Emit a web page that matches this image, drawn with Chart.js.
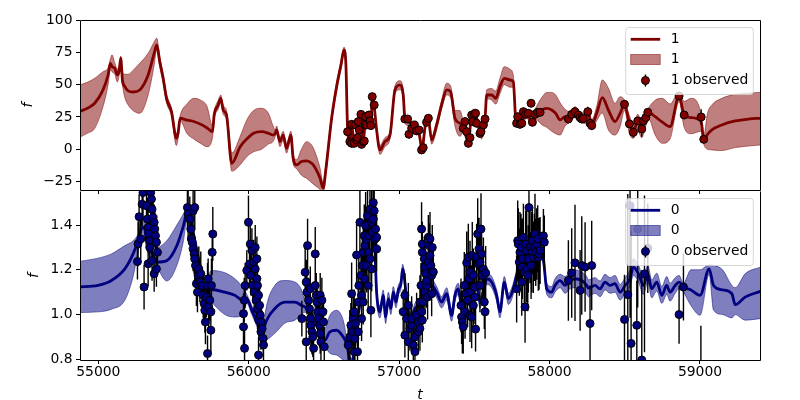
<!DOCTYPE html>
<html>
<head>
<meta charset="utf-8">
<script src="https://cdn.jsdelivr.net/npm/chart.js@4.4.1/dist/chart.umd.min.js"></script>
<style>
  html, body { margin: 0; padding: 0; background: #fff; }
  #wrap { position: relative; width: 800px; height: 400px; }
  #wrap canvas { position: absolute; left: 0; }
  #panel-top { top: 0; }
  #panel-bottom { top: 186px; }
</style>
</head>
<body>
<div id="wrap">
  <canvas id="panel-top" width="800" height="196"></canvas>
  <canvas id="panel-bottom" width="800" height="214"></canvas>
</div>
<script>
// =================================================================================
// 1. DATA
// =================================================================================
// --- shared axis ---
const xMin = 54878, xMax = 59399;
const xTicks = [55000, 56000, 57000, 58000, 59000];
const yTicks1 = [-25, 0, 25, 50, 75, 100];
const yTicks0 = [0.8, 1.0, 1.2, 1.4];

// --- series "1" (top panel): model mean and band ---
const t1 = [54870, 54930, 54976, 55031, 55065, 55080, 55091, 55109, 55127, 55140, 55149,
  55160, 55176, 55200, 55230, 55275, 55331, 55371, 55388, 55408, 55431, 55453,
  55486, 55519, 55530, 55544, 55590, 55634, 55680, 55723, 55759, 55770,
  55797, 55814, 55830, 55852, 55887, 55943, 55987, 56032, 56085, 56130,
  56162, 56176, 56185, 56207, 56229, 56251, 56280, 56295, 56318, 56350, 56384,
  56420, 56440, 56473, 56495, 56511, 56551, 56584, 56613, 56633, 56646, 56657,
  56672, 56684, 56701, 56717, 56728, 56746, 56761, 56777, 56799, 56812,
  56821, 56834, 56850, 56872, 56905, 56939, 56972, 57005, 57027, 57038,
  57061, 57105, 57127, 57152, 57176, 57194, 57216, 57249, 57282, 57316,
  57342, 57371, 57404, 57426, 57460, 57482, 57504, 57526, 57548, 57571,
  57582, 57615, 57642, 57670, 57699, 57737, 57759, 57775, 57792, 57815,
  57848, 57881, 57908, 57948, 57981, 58014, 58041, 58070, 58103, 58136,
  58169, 58203, 58236, 58254, 58280, 58313, 58351, 58391, 58435, 58469,
  58498, 58531, 58557, 58586, 58613, 58635, 58657, 58702, 58750, 58801,
  58861, 58895, 58940, 59008, 59025, 59050, 59079, 59145, 59234, 59323, 59402];
const mean1 = [29, 32, 35.6, 45.9, 57.5, 66.5, 64, 62.6, 57.5, 62, 70.4,
  53.6, 48.4, 45, 44.3, 45.9, 57.5, 74.2, 80.7, 67.8, 54.9, 39.4,
  29.1, 8.5, 12.4, 24, 22.5, 21.5, 19.3, 16.5, 13.6, 26.5,
  34.3, 39.4, 30.4, 26.5, -10.8, 2, 8, 12.4, 13.6, 12.4,
  11, 12.4, 15, 5.9, 11, 0.8, 11, -7, -12.1, -9.5, -9,
  -11, -14, -22, -30, -17.3, 24, 48.4, 65.2, 76.8, 65.2, 16.2,
  6, 19, 5, 8, 21, 26, 6, 24, 26, 18,
  39.4, 33, 15, -0.5, 5.9, 11, 45.9, 49.7, 42, 24,
  21.4, 16.2, 15, 0.8, 20.1, 22.7, 7.2, 18.8, 34.3, 45.9,
  44.5, 24, 20.1, 17.5, 5.9, 26.5, 27.8, 18.8, 11, 24,
  42, 42, 39.4, 48.4, 54.9, 53.6, 52.3, 24, 21.4, 22.7,
  27.8, 21.4, 27.8, 30.4, 31.7, 30.4, 27.8, 22.7, 25.2, 25.2,
  29.1, 25.2, 24, 29.1, 18.8, 27.8, 39.9, 30.4, 21.4, 27.8,
  34.8, 20.1, 13.6, 21.9, 16.2, 23.4, 28.6, 25.2, 21, 17.5,
  41.2, 26.5, 24.5, 21.4, 7.2, 11.5, 15, 18.8, 21.9, 23.4, 24];
const upper1 = [49.5, 52, 54.9, 60, 63, 70, 73, 67, 62, 66, 72,
  60, 58, 58, 61, 66.5, 74.2, 83, 86, 72, 58, 43,
  32, 12, 16, 26, 35, 39.4, 38, 33, 18, 29,
  38, 42, 34, 30, -3, 10, 22.7, 30, 31.7, 28,
  18, 15, 18, 9, 14, 4, 14, -3, -8, 0, 5.9,
  3, -2, -14, -26, -13, 27, 52, 68, 79, 68, 20,
  9, 22, 8, 11, 24, 29, 9, 27, 29, 21,
  42, 36, 18, 3, 9, 14, 49, 53, 46, 27,
  24, 19, 18, 4, 23, 26, 10, 22, 38, 51,
  49, 30, 30, 22, 9, 30, 31, 22, 14, 27,
  46, 47, 45, 55, 63.9, 62, 57, 27, 24, 26,
  31, 25, 32, 40, 44, 44, 42, 36, 31, 29,
  33, 29, 28, 33, 23, 33, 53.6, 47.2, 35.6, 40.7,
  38, 26, 20, 27, 22, 28, 32, 38, 39.4, 35,
  44.5, 37, 39.4, 27, 10, 28, 34.3, 39.4, 42.5, 43.5, 44];
const lower1 = [9, 12.5, 16.2, 33, 50, 62, 60, 58, 52, 58, 62,
  50, 40, 34, 30, 27.8, 42, 65, 77, 64, 51, 36,
  26, 3, 8, 22, 12, 8, 4.5, 2, 9, 23,
  31, 36, 27, 23, -17, -12, -5.7, -2, 0, 4,
  6, 9.8, 12, 2, 7, -3, 7, -11, -15, -20, -22.5,
  -26, -28, -31, -34, -21, 21, 45, 62, 73, 61, 12,
  3, 16, 2, 5, 18, 23, 3, 21, 23, 15,
  36, 30, 12, -4, 2, 8, 43, 46, 39, 21,
  18, 13, 12, -2, 17, 20, 4, 15, 31, 42,
  40, 18, 10, 13, 3, 23, 25, 16, 8, 21,
  39, 38, 35, 43, 50, 48, 48, 21, 18, 19,
  24, 18, 23, 19, 17, 14, 12, 11, 18, 21,
  25, 21, 20, 25, 15, 22, 28, 15, 11, 17.5,
  30, 12, 8.5, 14, 9, 16, 24, 11, 4.6, 8,
  37, 17, 12, 14, 4, 0, -0.5, -1, 1.3, 2.5, 3.3];

// --- series "1" observations ---
const obsT1 = [56657, 56672, 56684, 56684, 56701, 56710, 56717, 56723, 56728, 56735,
  56746, 56750, 56761, 56768, 56772, 56777, 56783, 56799, 56806, 56812, 56821, 56834,
  57038, 57056, 57065, 57083, 57101, 57116, 57132, 57149, 57160, 57182, 57194,
  57426, 57438, 57449, 57460, 57471, 57482, 57489, 57500, 57508, 57515, 57537, 57544, 57560, 57571,
  57781, 57788, 57803, 57815, 57826, 57841, 57859, 57877, 57886, 57903, 57921, 57937,
  58125, 58147, 58169, 58192, 58203, 58214, 58225, 58254, 58269, 58280,
  58498, 58531, 58557, 58586, 58613, 58624, 58640, 58653, 58861, 58895, 59008, 59025];
const obsF1 = [13.6, 5.9, 19.3, 4.6, 4.6, 18.8, 7.2, 9.0, 21.4, 14.9,
  27.0, 3.8, 5.9, 6.4, 19.3, 25.2, 18.8, 26.5, 21.9, 18.3, 40.7, 34.3,
  23.4, 23.4, 11.6, 16.2, 18.8, 14.2, 14.9, -0.5, 1.3, 20.9, 24,
  16.2, 21.4, 13.6, 4.6, 9.0, 26.5, 21.4, 27.0, 27.8, 20.1, 12.3, 13.6, 18.8, 23.4,
  20.1, 25.2, 19.3, 20.1, 29.1, 27.0, 27.8, 35.6, 20.9, 27.0, 28.6, 28.6,
  23.4, 27.0, 29.1, 26.5, 24.5, 23.4, 23.9, 29.1, 20.1, 18.3,
  34.8, 19.6, 13.1, 21.9, 15.7, 21.9, 24.5, 28.6, 41.2, 26.5, 25, 7.7];
const obsE1 = [3, 3, 3, 3, 3, 3, 3, 3, 3, 3,
  3, 3, 3, 3, 3, 3, 3, 3, 3, 3, 3, 3,
  3, 3, 3, 3, 3, 3, 3, 3, 3, 3, 3,
  3, 3, 3, 3, 3, 3, 3, 3, 3, 3, 3, 3, 3, 3,
  3, 3, 3, 3, 3, 3, 3, 3, 3, 3, 3, 3,
  3, 3, 3, 3, 3, 3, 3, 3, 3, 3,
  3, 3, 4, 3, 6, 3, 3, 3, 3, 3, 6, 3];

// --- series "0" (bottom panel): model mean and band ---
const t0 = [54870, 54998, 55087, 55176, 55231, 55264, 55286, 55304, 55322, 55360,
  55389, 55455, 55522, 55566, 55595, 55630, 55663, 55686, 55708, 55752,
  55841, 55907, 55963, 55987, 56020, 56060, 56098, 56107, 56173, 56240,
  56307, 56351, 56373, 56420, 56470, 56506, 56539, 56584, 56628, 56650,
  56680, 56728, 56772, 56806, 56817, 56839, 56850, 56872, 56894, 56910,
  56928, 56945, 56961, 56979, 56994, 57012, 57023, 57038, 57056, 57083,
  57105, 57127, 57171, 57216, 57249, 57282, 57316, 57349, 57371, 57393,
  57415, 57449, 57482, 57515, 57537, 57560, 57582, 57615, 57648, 57670,
  57699, 57726, 57759, 57781, 57803, 57837, 57881, 57914, 57937, 57959,
  57981, 58014, 58036, 58070, 58103, 58136, 58169, 58214, 58247, 58258,
  58302, 58336, 58369, 58402, 58435, 58469, 58502, 58535, 58557, 58591,
  58624, 58653, 58679, 58713, 58746, 58779, 58801, 58835, 58861, 58890,
  58940, 59001, 59061, 59090, 59150, 59212, 59234, 59300, 59402];
const mean0 = [1.123, 1.130, 1.152, 1.204, 1.271, 1.33, 1.382, 1.39, 1.33, 1.27,
  1.234, 1.241, 1.308, 1.397, 1.47, 1.367, 1.256, 1.182, 1.115, 1.112,
  1.1, 1.086, 1.064, 1.071, 1.02, 0.96, 0.923, 0.952, 1.026, 1.056,
  1.056, 1.041, 1.034, 1.0, 0.93, 0.886, 0.923, 0.93, 0.9, 0.871,
  0.78, 1.0, 1.2, 1.4, 1.5, 1.278, 1.1, 1.012, 1.086, 0.989,
  1.071, 1.027, 1.1, 1.056, 1.108, 1.138, 1.204, 1.145, 1.012, 0.989,
  1.026, 1.041, 1.086, 1.13, 1.1, 1.056, 1.093, 0.997, 1.086, 1.115,
  1.041, 1.071, 1.115, 1.13, 1.056, 1.1, 1.16, 1.145, 1.086, 1.012,
  1.145, 1.071, 1.115, 1.175, 1.219, 1.256, 1.264, 1.286, 1.308, 1.249,
  1.115, 1.1, 1.13, 1.152, 1.13, 1.152, 1.16, 1.152, 1.13, 1.118,
  1.13, 1.115, 1.145, 1.13, 1.138, 1.1, 1.13, 1.16, 1.212, 1.182,
  1.13, 1.182, 1.115, 1.145, 1.086, 1.13, 1.1, 1.13, 1.145, 1.123,
  1.11, 1.086, 1.204, 1.13, 1.11, 1.093, 1.044, 1.078, 1.104];
const upper0 = [1.237, 1.252, 1.271, 1.308, 1.33, 1.36, 1.41, 1.42, 1.37, 1.32,
  1.30, 1.33, 1.40, 1.45, 1.49, 1.39, 1.28, 1.21, 1.14, 1.197,
  1.187, 1.16, 1.12, 1.09, 1.04, 0.98, 0.94, 0.997, 1.13, 1.152,
  1.145, 1.11, 1.06, 1.02, 0.95, 0.938, 0.997, 1.019, 0.975, 0.9,
  0.8, 1.02, 1.22, 1.42, 1.52, 1.30, 1.125, 1.04, 1.11, 1.015,
  1.1, 1.055, 1.125, 1.08, 1.13, 1.16, 1.225, 1.17, 1.035, 1.01,
  1.05, 1.065, 1.11, 1.155, 1.125, 1.08, 1.12, 1.025, 1.11, 1.14,
  1.065, 1.095, 1.14, 1.155, 1.08, 1.125, 1.185, 1.17, 1.11, 1.04,
  1.17, 1.095, 1.14, 1.2, 1.245, 1.28, 1.29, 1.31, 1.335, 1.275,
  1.14, 1.125, 1.16, 1.18, 1.17, 1.19, 1.2, 1.19, 1.17, 1.155,
  1.165, 1.15, 1.18, 1.165, 1.175, 1.135, 1.165, 1.2, 1.25, 1.22,
  1.17, 1.22, 1.155, 1.185, 1.125, 1.17, 1.14, 1.165, 1.175, 1.14,
  1.2, 1.2, 1.222, 1.22, 1.2, 1.13, 1.12, 1.182, 1.212];
const lower0 = [1.009, 1.012, 1.024, 1.064, 1.17, 1.28, 1.33, 1.34, 1.29, 1.24,
  1.212, 1.15, 1.22, 1.33, 1.45, 1.34, 1.23, 1.16, 1.09, 1.056,
  1.0, 0.989, 1.0, 1.05, 1.0, 0.94, 0.9, 0.886, 0.916, 0.962,
  0.975, 1.0, 1.01, 0.98, 0.91, 0.864, 0.827, 0.819, 0.797, 0.79,
  0.76, 0.98, 1.18, 1.38, 1.48, 1.25, 1.075, 0.985, 1.06, 0.96,
  1.045, 1.0, 1.075, 1.03, 1.085, 1.115, 1.18, 1.12, 0.99, 0.965,
  1.0, 1.015, 1.06, 1.105, 1.075, 1.03, 1.065, 0.97, 1.06, 1.09,
  1.015, 1.045, 1.09, 1.105, 1.03, 1.075, 1.135, 1.12, 1.06, 0.985,
  1.12, 1.045, 1.09, 1.15, 1.195, 1.23, 1.24, 1.26, 1.28, 1.22,
  1.09, 1.075, 1.1, 1.12, 1.095, 1.115, 1.12, 1.11, 1.09, 1.08,
  1.095, 1.08, 1.11, 1.095, 1.1, 1.065, 1.095, 1.125, 1.175, 1.145,
  1.09, 1.145, 1.075, 1.105, 1.05, 1.09, 1.06, 1.095, 1.115, 1.1,
  1.04, 0.997, 1.18, 1.02, 1.0, 0.985, 1.0, 0.975, 0.982];

// --- series "0" observations ---
const obsT0 = [
  55260, 55264, 55271, 55282, 55291, 55297, 55304, 55320, 55326, 55331, 55331, 55335, 55342,
  55342, 55348, 55353, 55357, 55357, 55364, 55371, 55371, 55375, 55380, 55386, 55386, 55393,
  55592, 55597, 55608, 55615, 55619, 55624, 55630, 55630, 55637, 55641, 55641, 55646, 55652,
  55659, 55663, 55668, 55675, 55681, 55690, 55697, 55703, 55708, 55712, 55719, 55726, 55726,
  55730, 55734, 55741, 55748, 55748, 55752, 55757, 55761,
  55965, 55965, 55970, 55972, 55976, 55987, 55998, 56005, 56010, 56014, 56021, 56027, 56032,
  56036, 56043, 56043, 56049, 56054, 56054, 56058, 56058, 56065, 56065, 56067, 56072, 56076,
  56081, 56083, 56089, 56096, 56098,
  56353, 56375, 56382, 56382, 56387, 56391, 56398, 56404, 56409, 56409, 56413, 56420, 56426,
  56431, 56442, 56442, 56449, 56453, 56458, 56464, 56471, 56475, 56475, 56480, 56486, 56493,
  56497, 56502,
  56661, 56672, 56679, 56684, 56688, 56695, 56701, 56701, 56706, 56710, 56717, 56723, 56728,
  56728, 56732, 56739, 56746, 56750, 56750, 56755, 56761, 56761, 56768, 56772, 56772, 56777,
  56783, 56783, 56790, 56794, 56794, 56799, 56806, 56806, 56812, 56817, 56817, 56821, 56828,
  56828, 56834, 56839, 56843, 56850, 56850,
  57027, 57038, 57038, 57050, 57061, 57061, 57072, 57083, 57083, 57094, 57105, 57105, 57116,
  57127, 57127, 57138, 57138, 57145, 57149, 57149, 57154, 57154, 57154, 57160, 57167, 57171,
  57171, 57176, 57182, 57182, 57189, 57194, 57194, 57198, 57205, 57205, 57211, 57216, 57216,
  57220, 57227,
  57411, 57415, 57420, 57426, 57433, 57438, 57444, 57449, 57455, 57460, 57464, 57471, 57471,
  57477, 57482, 57486, 57493, 57493, 57500, 57504, 57508, 57515, 57522, 57526, 57531, 57537,
  57537, 57544, 57548, 57553, 57560, 57566, 57571, 57575,
  57781, 57788, 57792, 57799, 57803, 57810, 57815, 57815, 57819, 57826, 57832, 57837, 57841,
  57848, 57848, 57855, 57859, 57863, 57870, 57877, 57881, 57886, 57892, 57899, 57903, 57908,
  57914, 57921, 57925, 57930, 57937, 57959, 57965,
  58125, 58147, 58169, 58203, 58214, 58236, 58269, 58280,
  58498, 58520, 58535, 58542, 58580, 58586, 58613, 58631, 58653, 58861, 58890, 59006];
const obsF0 = [
  1.237, 1.316, 1.437, 1.338, 1.493, 1.545, 1.123, 1.486, 1.427, 1.389, 1.227, 1.36, 1.33,
  1.3, 1.545, 1.516, 1.471, 1.241, 1.434, 1.412, 1.182, 1.382, 1.352, 1.323, 1.204, 1.278,
  1.478, 1.449, 1.427, 1.382, 1.338, 1.323, 1.293, 1.463, 1.271, 1.249, 1.478, 1.219, 1.138,
  1.1, 1.175, 1.204, 1.145, 1.182, 1.13, 1.086, 1.049, 1.019, 0.967, 1.078, 1.13, 0.826,
  1.16, 1.034, 1.064, 1.012, 0.93, 1.13, 1.278, 1.36,
  1.004, 0.945, 1.064, 0.849, 1.13, 1.197, 1.412, 1.226, 1.315, 1.175, 1.286, 1.13, 1.234,
  1.1, 1.204, 1.3, 1.064, 1.16, 1.249, 1.13, 1.024, 1.086, 0.819, 0.975, 1.041, 0.997,
  0.923, 0.967, 0.938, 0.893, 0.864,
  0.982, 1.189, 1.145, 0.878, 1.1, 1.308, 1.064, 1.026, 0.982, 1.115, 0.952, 0.923, 0.9,
  0.849, 1.271, 1.13, 1.086, 1.056, 1.012, 0.982, 0.952, 0.915, 1.086, 0.878, 1.064, 1.012,
  0.967, 0.856,
  0.864, 0.9, 0.952, 1.093, 0.923, 0.982, 1.012, 0.834, 0.893, 0.96, 1.266, 0.834, 1.056,
  0.923, 1.13, 1.412, 1.175, 1.086, 0.982, 1.219, 1.278, 1.056, 1.352, 1.308, 1.16, 1.397,
  1.219, 1.337, 1.441, 1.278, 1.13, 1.352, 1.471, 1.249, 1.019, 1.412, 1.204, 1.367, 1.5,
  1.426, 1.463, 1.337, 1.382, 1.345, 1.293,
  1.012, 0.908, 1.086, 0.982, 0.878, 1.041, 0.938, 0.952, 0.982, 0.864, 0.9, 0.834, 0.997,
  0.923, 0.967, 1.056, 0.938, 1.13, 1.382, 1.012, 1.278, 1.315, 0.975, 1.056, 1.249, 1.212,
  1.1, 1.182, 1.13, 1.152, 1.078, 1.345, 1.234, 1.308, 1.264, 1.338, 1.219, 1.175, 1.093,
  1.3, 1.19,
  1.041, 0.989, 0.967, 0.945, 1.13, 1.012, 1.093, 1.231, 1.064, 1.256, 1.16, 1.19, 0.997,
  1.1, 0.989, 1.264, 1.175, 1.041, 1.123, 1.078, 0.935, 1.256, 1.36, 1.226, 1.293, 1.234,
  1.13, 1.382, 1.271, 1.175, 1.204, 1.056, 1.012, 1.186,
  1.115, 1.33, 1.315, 1.234, 1.278, 1.3, 1.212, 1.145, 1.249, 1.345, 1.19, 1.034, 1.315,
  1.286, 1.204, 1.175, 1.249, 1.478, 1.3, 1.219, 1.278, 1.33, 1.256, 1.3, 1.36, 1.278,
  1.315, 1.338, 1.256, 1.271, 1.286, 1.352, 1.323,
  1.152, 1.186, 1.231, 1.108, 1.219, 1.212, 0.96, 1.219,
  0.978, 1.089, 1.486, 0.871, 0.952, 1.382, 0.797, 1.182, 1.296, 1.0, 1.123, 0.72];
const obsE0 = [
  0.08, 0.1, 0.1, 0.09, 0.1, 0.12, 0.1, 0.1, 0.09, 0.08, 0.1, 0.08, 0.09,
  0.08, 0.12, 0.1, 0.1, 0.09, 0.08, 0.08, 0.08, 0.08, 0.08, 0.08, 0.08, 0.08,
  0.1, 0.12, 0.1, 0.09, 0.1, 0.08, 0.1, 0.1, 0.09, 0.1, 0.1, 0.08, 0.1,
  0.09, 0.08, 0.1, 0.09, 0.1, 0.08, 0.1, 0.09, 0.1, 0.1, 0.09, 0.1, 0.08,
  0.09, 0.1, 0.09, 0.08, 0.1, 0.12, 0.1, 0.12,
  0.09, 0.08, 0.1, 0.08, 0.1, 0.09, 0.12, 0.1, 0.1, 0.09, 0.1, 0.08, 0.1,
  0.09, 0.1, 0.1, 0.09, 0.1, 0.1, 0.08, 0.09, 0.09, 0.08, 0.08, 0.09, 0.08,
  0.08, 0.08, 0.08, 0.08, 0.08,
  0.08, 0.12, 0.1, 0.1, 0.1, 0.12, 0.1, 0.09, 0.1, 0.1, 0.09, 0.1, 0.09,
  0.1, 0.12, 0.1, 0.1, 0.09, 0.1, 0.09, 0.1, 0.09, 0.1, 0.1, 0.1, 0.09,
  0.1, 0.09,
  0.1, 0.12, 0.1, 0.14, 0.1, 0.12, 0.1, 0.1, 0.12, 0.1, 0.14, 0.1, 0.12,
  0.1, 0.12, 0.15, 0.12, 0.1, 0.1, 0.12, 0.12, 0.1, 0.14, 0.12, 0.1, 0.15,
  0.12, 0.1, 0.14, 0.12, 0.1, 0.12, 0.15, 0.1, 0.12, 0.14, 0.1, 0.12, 0.15,
  0.12, 0.14, 0.1, 0.12, 0.1, 0.1,
  0.1, 0.1, 0.1, 0.12, 0.1, 0.1, 0.1, 0.12, 0.1, 0.1, 0.12, 0.1, 0.1,
  0.1, 0.1, 0.12, 0.1, 0.1, 0.12, 0.1, 0.1, 0.1, 0.1, 0.1, 0.1, 0.1,
  0.1, 0.1, 0.1, 0.12, 0.1, 0.1, 0.1, 0.1, 0.1, 0.12, 0.1, 0.1, 0.1,
  0.1, 0.1,
  0.12, 0.12, 0.14, 0.12, 0.15, 0.12, 0.12, 0.14, 0.12, 0.15, 0.12, 0.14, 0.12,
  0.12, 0.14, 0.15, 0.12, 0.12, 0.14, 0.12, 0.1, 0.15, 0.16, 0.12, 0.14, 0.12,
  0.12, 0.16, 0.12, 0.12, 0.14, 0.12, 0.12, 0.12,
  0.15, 0.18, 0.16, 0.15, 0.18, 0.15, 0.16, 0.15, 0.18, 0.15, 0.16, 0.16, 0.15,
  0.18, 0.15, 0.16, 0.15, 0.2, 0.16, 0.15, 0.18, 0.15, 0.16, 0.15, 0.18, 0.15,
  0.16, 0.15, 0.15, 0.16, 0.15, 0.12, 0.12,
  0.18, 0.2, 0.26, 0.18, 0.22, 0.2, 0.17, 0.2,
  0.2, 0.45, 0.5, 0.5, 0.2, 0.35, 0.4, 0.35, 0.2, 0.13, 0.15, 0.23];

// =================================================================================
// 2. STYLE
// =================================================================================
const FONT = { family: 'DejaVu Sans', size: 13.9 };
const ITALIC = { family: 'DejaVu Sans', size: 13.9, style: 'italic' };
const MAROON = '#800000', MAROON_BAND = 'rgba(128,0,0,0.5)';
const NAVY = '#000080', NAVY_BAND = 'rgba(0,0,128,0.5)';

// =================================================================================
// 3. HELPERS
// =================================================================================
const pts = (xs, ys) => xs.map((x, i) => ({ x, y: ys[i] }));
// one vertical segment per observation, broken apart with a null point
const errSegs = (xs, ys, es) => xs.flatMap((x, i) => [
  { x, y: ys[i] - es[i] }, { x, y: ys[i] + es[i] }, { x, y: null }
]);

// matplotlib-like legend box in the upper right of the panel
const panelLegend = {
  id: 'panelLegend',
  afterDatasetsDraw(chart, args, o) {
    const { ctx, chartArea: a } = chart;
    const w = 127.6, h = 67;
    const x0 = a.right - 6.7 - w, y0 = a.top + 7.5;
    const hx0 = x0 + 5, hx1 = x0 + 34.5, tx = x0 + 45;
    const rows = [y0 + 11.8, y0 + 32, y0 + 53];
    ctx.save();
    ctx.beginPath();
    ctx.roundRect(x0, y0, w, h, 3);
    ctx.fillStyle = 'rgba(255,255,255,0.8)';
    ctx.fill();
    ctx.strokeStyle = 'rgba(204,204,204,0.8)';
    ctx.lineWidth = 1;
    ctx.stroke();

    ctx.strokeStyle = o.line;
    ctx.lineWidth = 2.8;
    ctx.beginPath(); ctx.moveTo(hx0, rows[0]); ctx.lineTo(hx1, rows[0]); ctx.stroke();

    ctx.fillStyle = o.band;
    ctx.fillRect(hx0, rows[1] - 5, hx1 - hx0, 10);
    ctx.strokeStyle = o.band;
    ctx.lineWidth = 1;
    ctx.strokeRect(hx0, rows[1] - 5, hx1 - hx0, 10);

    const mx = (hx0 + hx1) / 2;
    ctx.strokeStyle = '#000';
    ctx.lineWidth = 1.5;
    ctx.beginPath(); ctx.moveTo(mx, rows[2] - 6); ctx.lineTo(mx, rows[2] + 6); ctx.stroke();
    ctx.beginPath(); ctx.arc(mx, rows[2], 4, 0, Math.PI * 2);
    ctx.fillStyle = o.line; ctx.fill();
    ctx.lineWidth = 1; ctx.stroke();

    ctx.fillStyle = '#000';
    ctx.font = '13.9px "DejaVu Sans"';
    ctx.textAlign = 'left';
    ctx.textBaseline = 'middle';
    ctx.fillText(o.label, tx, rows[0]);
    ctx.fillText(o.label, tx, rows[1]);
    ctx.fillText(o.label + ' observed', tx, rows[2]);
    ctx.restore();
  }
};

// black box around the plotting area (the lower panel shares its top edge)
const panelFrame = {
  id: 'panelFrame',
  afterDraw(chart, args, o) {
    const { ctx, chartArea: a } = chart;
    const l = a.left + 0.5, r = a.right + 0.5, t = a.top + 0.5, b = a.bottom + 0.5;
    ctx.save();
    ctx.strokeStyle = '#000';
    ctx.lineWidth = 1;
    ctx.beginPath();
    if (o.top) { ctx.moveTo(l, t); ctx.lineTo(r, t); }
    ctx.moveTo(l, t); ctx.lineTo(l, b); ctx.lineTo(r, b); ctx.lineTo(r, t);
    ctx.stroke();
    ctx.restore();
  }
};

const smooth = { cubicInterpolationMode: 'monotone', pointRadius: 0 };

function buildPanel(p) {
  return {
    type: 'line',
    data: {
      datasets: [
        { label: p.label + ' observed', data: pts(p.obsT, p.obsF), showLine: false,
          pointRadius: 4, pointBackgroundColor: p.line, pointBorderColor: '#000',
          pointBorderWidth: 1, order: 0 },
        { label: 'err', data: errSegs(p.obsT, p.obsF, p.obsE), borderColor: '#000',
          borderWidth: 1.4, pointRadius: 0, spanGaps: false, fill: false, order: 1 },
        { ...smooth, label: p.label, data: pts(p.t, p.mean), borderColor: p.line, borderWidth: 2.8,
          borderJoinStyle: 'round', fill: false, order: 2 },
        { ...smooth, label: 'upper', data: pts(p.t, p.upper), borderColor: p.band, backgroundColor: p.band,
          borderWidth: 1, fill: '+1', order: 3 },
        { ...smooth, label: 'lower', data: pts(p.t, p.lower), borderColor: p.band,
          borderWidth: 1, fill: false, order: 3 }
      ]
    },
    options: {
      responsive: false,
      animation: false,
      events: [],
      layout: { padding: { top: p.padTop, right: 40, bottom: 0, left: 0 } },
      plugins: {
        legend: { display: false },
        tooltip: { enabled: false },
        panelLegend: { label: p.label, line: p.line, band: p.band },
        panelFrame: { top: p.frameTop }
      },
      scales: {
        x: {
          type: 'linear', min: xMin, max: xMax, bounds: 'data',
          afterBuildTicks: s => { s.ticks = xTicks.map(v => ({ value: v })); },
          afterFit: s => { s.height = p.xHeight; s.paddingLeft = 0; s.paddingRight = 0; },
          ticks: { display: p.xLabels, font: FONT, color: '#000', padding: 0,
                   maxRotation: 0, autoSkip: false, callback: v => String(v) },
          grid: { drawOnChartArea: false, tickLength: 4, color: '#000', lineWidth: 1 },
          border: { display: false },
          title: { display: p.xLabels, text: 't', font: ITALIC, color: '#000',
                   padding: { top: 0, bottom: -4 } }
        },
        y: {
          type: 'linear', min: p.yMin, max: p.yMax, bounds: 'data',
          afterBuildTicks: s => { s.ticks = p.yTicks.map(v => ({ value: v })); },
          afterFit: s => { s.width = 80; s.paddingTop = 0; s.paddingBottom = 0; },
          ticks: { font: FONT, color: '#000', padding: 3.5, callback: p.fmt },
          grid: { drawOnChartArea: false, tickLength: 4, color: '#000', lineWidth: 1 },
          border: { display: false },
          title: { display: true, text: 'f', font: ITALIC, color: '#000',
                   padding: { top: p.yTitlePad, bottom: 0 } }
        }
      }
    },
    plugins: [panelLegend, panelFrame]
  };
}

// =================================================================================
// 4. CHARTS
// =================================================================================
new Chart(document.getElementById('panel-top'), buildPanel({
  label: '1', line: MAROON, band: MAROON_BAND,
  t: t1, mean: mean1, upper: upper1, lower: lower1,
  obsT: obsT1, obsF: obsF1, obsE: obsE1,
  yMin: -31.5, yMax: 100, yTicks: yTicks1,
  fmt: v => (v < 0 ? '\u2212' + Math.abs(v) : String(v)),
  padTop: 20, xHeight: 6, xLabels: false, yTitlePad: 20, frameTop: true
}));

new Chart(document.getElementById('panel-bottom'), buildPanel({
  label: '0', line: NAVY, band: NAVY_BAND,
  t: t0, mean: mean0, upper: upper0, lower: lower0,
  obsT: obsT0, obsF: obsF0, obsE: obsE0,
  yMin: 0.797, yMax: 1.552, yTicks: yTicks0,
  fmt: v => v.toFixed(1),
  padTop: 4, xHeight: 40, xLabels: true, yTitlePad: 26, frameTop: false
}));
</script>
</body>
</html>
